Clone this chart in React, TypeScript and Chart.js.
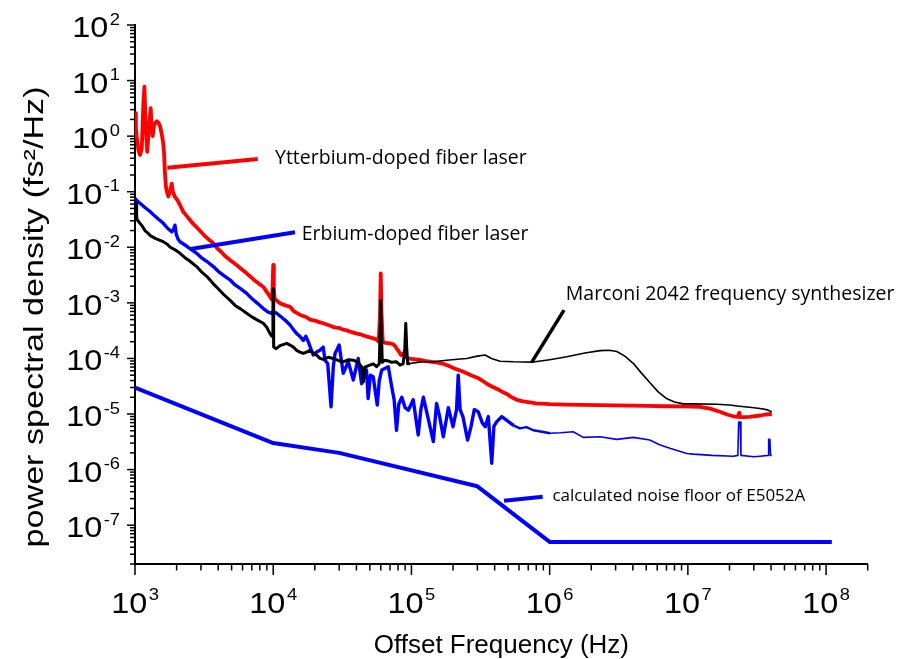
import React, { useEffect, useRef } from 'react';
import { Chart, registerables } from 'chart.js';

Chart.register(...registerables);

// ---------- data (frequency in Hz, PSD in fs^2/Hz) ----------
const ytterbium: number[][] = [
  [1000, 2.6], [1015, 1.4], [1029, 0.98], [1060, 0.55], [1087, 0.46], [1120, 0.6], [1150, 4.0], [1170, 7.8],
  [1195, 1.5], [1227, 0.52], [1260, 1.4], [1299, 3.2], [1320, 1.5], [1344, 1.0], [1370, 1.5], [1396, 1.7],
  [1440, 1.85], [1475, 1.75], [1520, 1.5], [1560, 1.1], [1600, 0.75], [1622, 0.5], [1650, 0.2], [1677, 0.12],
  [1710, 0.095], [1742, 0.082], [1800, 0.105], [1844, 0.14], [1880, 0.1], [1946, 0.08], [2020, 0.072],
  [2100, 0.06], [2239, 0.043], [2380, 0.036], [2500, 0.031], [2650, 0.026], [2793, 0.023], [3000, 0.019],
  [3200, 0.016], [3450, 0.0135], [3690, 0.0118], [3950, 0.0095], [4200, 0.0083], [4500, 0.0069], [4864, 0.0059],
  [5200, 0.0052], [5600, 0.0045], [6000, 0.0039], [6427, 0.0034], [6900, 0.0029], [7400, 0.0025], [7900, 0.0022],
  [8472, 0.00195], [9100, 0.0015], [9750, 0.00115], [9900, 0.0018], [10000, 0.0048], [10100, 0.0017],
  [10250, 0.0012], [10590, 0.0011], [11200, 0.00098], [12000, 0.00092], [12600, 0.00088], [13240, 0.00085],
  [14000, 0.00072], [14790, 0.00066], [15800, 0.0006], [16500, 0.00058], [17460, 0.00055], [18500, 0.0005],
  [20000, 0.00048], [21500, 0.00045], [23010, 0.00043], [25000, 0.0004], [27000, 0.00037], [28500, 0.00036],
  [30410, 0.00035], [32000, 0.00033], [34040, 0.00032], [36500, 0.0003], [40180, 0.00028], [43000, 0.00027],
  [47000, 0.00025], [50000, 0.00024], [52970, 0.00023], [56000, 0.00022], [58000, 0.0002], [59200, 0.0006],
  [60000, 0.0034], [60800, 0.0006], [62000, 0.0002], [65000, 0.00019], [70000, 0.000187], [74000, 0.00018],
  [77000, 0.00016], [80000, 0.00014], [84000, 0.000115], [87100, 0.000123], [91000, 0.000105], [95000, 0.0001],
  [100000, 0.000098], [108000, 0.000096], [115300, 0.000094], [125000, 0.00009], [140000, 0.000087],
  [155000, 0.000084], [170000, 0.00008], [190000, 0.000072], [205000, 0.000066], [220000, 0.000062],
  [235000, 0.000058], [251200, 0.000054], [275000, 0.000049], [300000, 0.000045], [325000, 0.00004],
  [350800, 0.000035], [385000, 0.000031], [420000, 0.000028], [455000, 0.000025], [489800, 0.000023],
  [530000, 0.00002], [580000, 0.000018], [630000, 0.000017], [682300, 0.0000165], [800000, 0.0000155],
  [1007000, 0.000015], [1300000, 0.0000148], [1700000, 0.0000146], [2317000, 0.0000145], [3000000, 0.0000143],
  [4000000, 0.0000142], [5000000, 0.000014], [7000000, 0.0000138], [9000000, 0.0000137], [12250000, 0.0000135],
  [14500000, 0.0000125], [17000000, 0.000011], [19500000, 0.0000097], [21330000, 0.0000091],
  [23000000, 0.0000089], [23500000, 0.0000105], [23700000, 0.0000089], [24000000, 0.0000088],
  [28000000, 0.0000089], [33270000, 0.0000094], [36500000, 0.0000098], [40460000, 0.00001],
];

const erbium: number[][] = [
  [1000, 0.076], [1040, 0.068], [1087, 0.062], [1180, 0.052], [1284, 0.044], [1400, 0.036], [1503, 0.031],
  [1603, 0.027], [1720, 0.022], [1843, 0.019], [1900, 0.021], [1946, 0.025], [1990, 0.017], [2050, 0.014],
  [2118, 0.0126], [2300, 0.011], [2500, 0.0095], [2793, 0.0078], [3000, 0.0066], [3300, 0.0056], [3690, 0.0045],
  [4000, 0.0037], [4400, 0.0031], [4864, 0.0026], [5300, 0.0021], [5800, 0.0018], [6427, 0.00148], [7000, 0.0012],
  [7700, 0.00098], [8472, 0.00079], [9200, 0.00068], [9750, 0.00065], [10000, 0.0007], [10590, 0.00065],
  [11500, 0.00055], [12300, 0.00048], [13240, 0.0004], [14000, 0.00033], [14790, 0.00028], [15600, 0.00025],
  [16500, 0.00021], [17200, 0.00025], [17950, 0.0002], [18700, 0.00015], [19500, 0.000115], [20600, 0.00013],
  [21800, 0.00014], [23000, 0.00016], [23700, 0.000093], [24800, 0.00008], [26200, 0.0000135], [27200, 0.00007],
  [28000, 0.000123], [30000, 0.000174], [32100, 0.000054], [34900, 0.000087], [38000, 0.000041], [41200, 0.0001],
  [43600, 0.000035], [47300, 0.000062], [48600, 0.000019], [50500, 0.00005], [52900, 0.000047], [56600, 0.0000145],
  [58500, 0.00004], [61000, 0.000062], [68000, 0.000071], [72000, 0.000031], [75000, 0.000018], [78000, 0.0000051],
  [81000, 0.000015], [85200, 0.00002], [90000, 0.000013], [95000, 0.0000117], [103000, 0.000018],
  [112000, 0.0000042], [117000, 0.000012], [122000, 0.00002], [133000, 0.0000078], [144000, 0.0000032],
  [152000, 0.0000155], [160000, 0.000009], [170000, 0.0000039], [185000, 0.000013], [200000, 0.0000059],
  [212000, 0.000012], [218000, 0.00005], [225000, 0.000012], [236000, 0.0000089], [255000, 0.0000034],
  [270000, 0.000006], [285000, 0.000012], [304000, 0.000011], [325000, 0.000007], [342000, 0.0000059],
  [360000, 0.000009], [381000, 0.0000013], [395000, 0.000006], [413000, 0.0000072], [450000, 0.000009],
  [490000, 0.0000077], [550000, 0.0000062], [610000, 0.0000055], [680000, 0.0000058], [762000, 0.0000051],
  [880000, 0.0000048], [1007000, 0.0000045], [1200000, 0.0000046], [1480000, 0.0000048], [1750000, 0.0000038],
  [2317000, 0.0000039], [3060000, 0.0000035], [4040000, 0.0000038], [5300000, 0.0000034], [6240000, 0.0000028],
  [7500000, 0.0000024], [9830000, 0.00000195], [11000000, 0.0000019], [15000000, 0.0000018],
  [21330000, 0.00000174], [23000000, 0.0000018], [23300000, 0.0000072], [23900000, 0.0000072],
  [24200000, 0.0000018], [30000000, 0.0000017], [33270000, 0.00000174], [38000000, 0.0000018],
  [38400000, 0.0000035], [39200000, 0.0000035], [39600000, 0.0000018], [40460000, 0.0000018],
];

const marconi: number[][] = [
  [1000, 0.042], [1010, 0.055], [1020, 0.062], [1028, 0.035], [1040, 0.031], [1087, 0.027], [1130, 0.024],
  [1180, 0.02], [1240, 0.018], [1300, 0.016], [1400, 0.0145], [1500, 0.0135], [1603, 0.0126], [1700, 0.0115],
  [1800, 0.01], [1950, 0.009], [2118, 0.0078], [2300, 0.0065], [2500, 0.0056], [2793, 0.0045], [3000, 0.0037],
  [3300, 0.003], [3690, 0.0022], [4000, 0.0018], [4400, 0.0014], [4864, 0.00112], [5300, 0.0009], [5800, 0.00078],
  [6427, 0.00065], [7000, 0.00056], [7700, 0.00049], [8472, 0.00043], [9000, 0.00036], [9480, 0.00028],
  [9800, 0.00025], [9950, 0.0008], [10000, 0.0018], [10050, 0.0008], [10100, 0.00016], [10500, 0.00015],
  [11200, 0.00017], [12530, 0.000187], [13240, 0.000174], [14000, 0.00016], [14790, 0.00014], [15600, 0.00013],
  [16500, 0.000123], [17400, 0.00013], [18400, 0.00014], [19500, 0.000125], [20600, 0.000115], [21800, 0.0001],
  [23000, 0.000096], [25000, 0.000105], [27200, 0.0001], [29500, 0.000092], [32100, 0.000087], [35000, 0.000095],
  [38000, 0.000093], [41000, 0.000085], [43600, 0.000071], [44900, 0.000038], [46000, 0.00007], [50000, 0.000076],
  [53000, 0.00008], [55900, 0.000071], [58500, 0.00008], [59500, 0.0004], [60000, 0.0011], [60500, 0.0004],
  [61500, 0.000085], [64000, 0.000093], [68000, 0.00009], [72000, 0.000085], [78000, 0.000087],
  [82800, 0.000076], [87000, 0.00008], [89500, 0.00015], [91000, 0.00043], [92500, 0.00015], [94000, 0.00008],
  [97800, 0.000081], [110000, 0.000085], [122000, 0.000087], [144000, 0.000087], [180000, 0.000093],
  [215000, 0.000097], [251000, 0.0001], [300000, 0.00011], [341000, 0.000115], [380000, 0.0001],
  [437000, 0.000089], [550000, 0.000087], [762000, 0.000086], [1000000, 0.000095], [1330000, 0.000107],
  [1800000, 0.000125], [2317000, 0.000138], [2700000, 0.00014], [3060000, 0.000133], [3500000, 0.00011],
  [4040000, 0.000081], [4600000, 0.000055], [5300000, 0.000037], [6100000, 0.000025], [7010000, 0.000019],
  [8000000, 0.0000165], [9270000, 0.0000152], [11000000, 0.0000152], [16200000, 0.000015], [20000000, 0.0000145],
  [23500000, 0.0000138], [28000000, 0.0000132], [33270000, 0.0000126], [37000000, 0.000012], [40460000, 0.000011],
];

const noiseFloor: number[][] = [
  [1000, 3e-5], [10000, 3e-6], [30000, 2e-6], [300000, 5e-7], [1000000, 5e-8], [110000000, 5e-8],
];

// annotation pointer segments (data coordinates)
const pointerYb: number[][] = [[1714, 0.27], [7730, 0.387]];
const pointerEr: number[][] = [[2529, 0.0093], [14390, 0.0186]];
const pointerMarconi: number[][] = [[741000, 8.5e-5], [1270000, 7.4e-4]];
const pointerFloor: number[][] = [[468000, 2.74e-7], [891000, 3.24e-7]];

const noteTexts = [
  'Ytterbium-doped fiber laser',
  'Erbium-doped fiber laser',
  'Marconi 2042 frequency synthesizer',
  'calculated noise floor of E5052A',
];
const noteAnchors: number[][] = [[10300, 0.315], [16070, 0.0135], [1309000, 1.12e-3], [1047000, 2.74e-7]];

const xDecades = [3, 4, 5, 6, 7, 8];
const yDecades = [-7, -6, -5, -4, -3, -2, -1, 0, 1, 2];
const X_MIN = 1e3;
const X_MAX = 2e8;
const Y_MIN = 2e-8;
const Y_MAX = 1e2;

const X_TITLE = 'Offset Frequency (Hz)';
const Y_TITLE = 'power spectral density (fs\u00B2/Hz)';

// ---------- styles ----------
const AXIS_FONT = '"Liberation Sans", Arial, Helvetica, sans-serif';
const NOTE_FONT = '"Open Sans", "Noto Sans", sans-serif';
const RED = '#ff0000';
const BLUE = '#0000ff';
const BLACK = '#000000';

const toXY = (arr: number[][]) => arr.map(([x, y]) => ({ x, y }));

const decorPlugin = {
  id: 'decor',
  afterDraw(chart: any) {
    const { ctx, chartArea, scales } = chart;
    const xs = scales.x;
    const ys = scales.y;
    ctx.save();
    ctx.strokeStyle = '#000';
    ctx.fillStyle = '#000';
    ctx.lineWidth = 1.5;

    // x tick marks
    for (let d = 3; d <= 8; d++) {
      for (let m = 1; m <= 9; m++) {
        const v = m * Math.pow(10, d);
        if (v < X_MIN * 0.999 || v > X_MAX * 1.001) continue;
        const px = xs.getPixelForValue(v);
        const len = m === 1 ? 11 : 6.5;
        ctx.beginPath();
        ctx.moveTo(px, chartArea.bottom);
        ctx.lineTo(px, chartArea.bottom + len);
        ctx.stroke();
      }
    }
    // y tick marks
    for (let d = -8; d <= 2; d++) {
      for (let m = 1; m <= 9; m++) {
        const v = m * Math.pow(10, d);
        if (v < Y_MIN * 0.999 || v > Y_MAX * 1.001) continue;
        const py = ys.getPixelForValue(v);
        const len = m === 1 ? 8 : 5;
        ctx.beginPath();
        ctx.moveTo(chartArea.left, py);
        ctx.lineTo(chartArea.left - len, py);
        ctx.stroke();
      }
    }

    // power-of-ten labels
    const mainSize = 30;
    const supSize = 17;
    const sx = 1.08;
    const gap = 1.5;
    const drawPow = (exp: number, xPos: number, baseY: number, align: 'right' | 'center') => {
      ctx.font = `${mainSize}px ${AXIS_FONT}`;
      const mainW = ctx.measureText('10').width * sx;
      ctx.font = `${supSize}px ${AXIS_FONT}`;
      const supText = String(exp);
      const supW = ctx.measureText(supText).width * sx;
      const total = mainW + gap + supW;
      const start = align === 'right' ? xPos - total : xPos - total / 2;
      ctx.textAlign = 'left';
      ctx.textBaseline = 'alphabetic';
      ctx.save();
      ctx.translate(start, baseY);
      ctx.scale(sx, 1);
      ctx.font = `${mainSize}px ${AXIS_FONT}`;
      ctx.fillText('10', 0, 0);
      ctx.restore();
      ctx.save();
      ctx.translate(start + mainW + gap, baseY - 12.5);
      ctx.scale(sx, 1);
      ctx.font = `${supSize}px ${AXIS_FONT}`;
      ctx.fillText(supText, 0, 0);
      ctx.restore();
    };
    xDecades.forEach((d) => {
      const px = xs.getPixelForValue(Math.pow(10, d));
      drawPow(d, px, chartArea.bottom + 48.5, 'center');
    });
    yDecades.forEach((d) => {
      const py = ys.getPixelForValue(Math.pow(10, d));
      drawPow(d, chartArea.left - 15, py + 12, 'right');
    });

    // axis titles
    ctx.font = `26px ${AXIS_FONT}`;
    ctx.textAlign = 'center';
    ctx.textBaseline = 'alphabetic';
    ctx.fillText(X_TITLE, (chartArea.left + chartArea.right) / 2, 653);

    ctx.save();
    ctx.font = `28px ${AXIS_FONT}`;
    const w = ctx.measureText(Y_TITLE).width;
    const stretch = 461 / w;
    ctx.translate(43, 317);
    ctx.rotate(-Math.PI / 2);
    ctx.scale(stretch, 1);
    ctx.fillText(Y_TITLE, 0, 0);
    ctx.restore();

    // annotation texts
    ctx.textAlign = 'left';
    ctx.textBaseline = 'alphabetic';
    noteTexts.forEach((t, i) => {
      const [f, v] = noteAnchors[i];
      ctx.font = `${i === 3 ? 17 : 19.5}px ${NOTE_FONT}`;
      ctx.fillText(t, xs.getPixelForValue(f), ys.getPixelForValue(v));
    });
    ctx.restore();
  },
};

export default function App() {
  const canvasRef = useRef<HTMLCanvasElement>(null);

  useEffect(() => {
    if (!canvasRef.current) return;
    const lineDs = (label: string, arr: number[][], color: string, width: number, order: number, extra: any = {}) => ({
      label,
      data: toXY(arr),
      borderColor: color,
      backgroundColor: color,
      borderWidth: width,
      pointRadius: 0,
      showLine: true,
      tension: 0,
      borderJoinStyle: 'round',
      borderCapStyle: 'butt',
      order,
      ...extra,
    });
    const chart = new Chart(canvasRef.current, {
      type: 'scatter',
      data: {
        datasets: [
          lineDs('calculated noise floor of E5052A', noiseFloor, BLUE, 4, 5),
          lineDs('Ytterbium-doped fiber laser', ytterbium, RED, 3.8, 4),
          lineDs('Erbium-doped fiber laser', erbium, BLUE, 3.4, 3, {
            segment: {
              borderWidth: (c: any) => (c.p0.parsed.x >= 1000000 ? 1.6 : c.p0.parsed.x >= 500000 ? 2.4 : 3.4),
            },
          }),
          lineDs('Marconi 2042 frequency synthesizer', marconi, BLACK, 3, 2, {
            segment: { borderWidth: (c: any) => (c.p0.parsed.x >= 95000 ? 1.6 : 3) },
          }),
          lineDs('pYb', pointerYb, RED, 4, 1),
          lineDs('pEr', pointerEr, BLUE, 4, 1),
          lineDs('pMarconi', pointerMarconi, BLACK, 3.5, 1),
          lineDs('pFloor', pointerFloor, BLUE, 4, 1),
        ],
      },
      options: {
        animation: false,
        responsive: true,
        maintainAspectRatio: false,
        layout: { padding: { left: 0, top: 25, right: 32.3, bottom: 0 } },
        plugins: { legend: { display: false }, tooltip: { enabled: false } },
        scales: {
          x: {
            type: 'logarithmic',
            min: X_MIN,
            max: X_MAX,
            bounds: 'data',
            grid: { display: false, drawTicks: false },
            border: { display: true, color: '#000', width: 2 },
            ticks: { display: false },
            afterFit: (s: any) => { s.height = 95; },
          },
          y: {
            type: 'logarithmic',
            min: Y_MIN,
            max: Y_MAX,
            bounds: 'data',
            grid: { display: false, drawTicks: false },
            border: { display: true, color: '#000', width: 2 },
            ticks: { display: false },
            afterFit: (s: any) => { s.width = 135; },
          },
        },
      } as any,
      plugins: [decorPlugin],
    });
    return () => chart.destroy();
  }, []);

  return (
    <div style={{ position: 'absolute', left: 0, top: 0, width: 900, height: 659, background: '#fff' }}>
      <canvas ref={canvasRef} />
    </div>
  );
}
